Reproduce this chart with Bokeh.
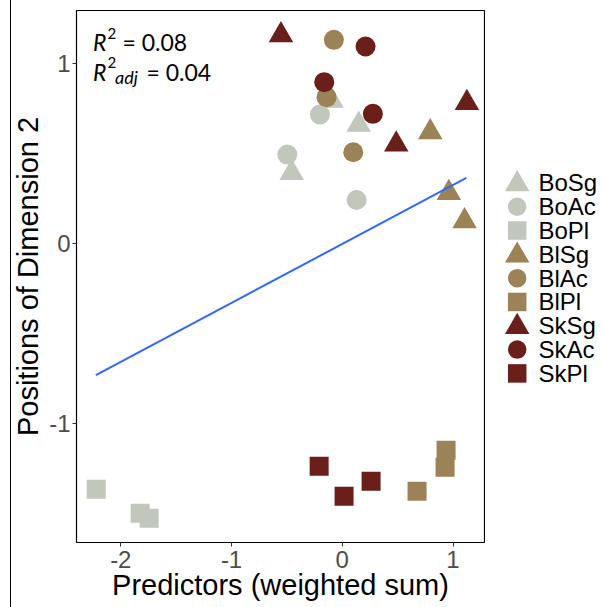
from bokeh.plotting import figure
from bokeh.models import Range1d, FixedTicker, Label
from bokeh.layouts import row
from bokeh.embed import file_html
from bokeh.resources import INLINE
from bokeh.core.properties import value

# ---------------- data ----------------
groups = ["Bo", "Bl", "Sk"]
measures = ["Sg", "Ac", "Pl"]

bo_sg_x = [-0.097, 0.148, -0.457]
bo_sg_y = [0.795, 0.662, 0.394]
bo_ac_x = [-0.202, -0.496, 0.129]
bo_ac_y = [0.718, 0.496, 0.244]
bo_pl_x = [-2.222, -1.825, -1.744]
bo_pl_y = [-1.362, -1.496, -1.523]

bl_sg_x = [0.794, 0.962, 1.104]
bl_sg_y = [0.620, 0.283, 0.126]
bl_ac_x = [-0.076, -0.142, 0.099]
bl_ac_y = [1.133, 0.815, 0.509]
bl_pl_x = [0.675, 0.928, 0.937]
bl_pl_y = [-1.373, -1.240, -1.146]

sk_sg_x = [-0.554, 0.487, 1.125]
sk_sg_y = [1.159, 0.553, 0.783]
sk_ac_x = [0.210, -0.163, 0.276]
sk_ac_y = [1.096, 0.898, 0.722]
sk_pl_x = [-0.209, 0.016, 0.260]
sk_pl_y = [-1.234, -1.401, -1.318]

fit_x = [-2.225, 1.120]
fit_y = [-0.728, 0.366]

x_ticks = [-2, -1, 0, 1]
x_tick_labels = ["-2", "-1", "0", "1"]
y_ticks = [-1, 0, 1]
y_tick_labels = ["-1", "0", "1"]

r2_text = "0.08"
r2_adj_text = "0.04"

legend_labels = ["BoSg", "BoAc", "BoPl", "BlSg", "BlAc", "BlPl", "SkSg", "SkAc", "SkPl"]

# ---------------- styles ----------------
colors = {"Bo": "#C1C7BA", "Bl": "#9C8257", "Sk": "#6A1F1A"}
markers = {"Sg": "triangle", "Ac": "circle", "Pl": "square"}
sizes = {"Sg": 24.5, "Ac": 20, "Pl": 19}
legend_sizes = {"Sg": 24.5, "Ac": 18.5, "Pl": 18.5}

series = {
    ("Bo", "Sg"): (bo_sg_x, bo_sg_y), ("Bo", "Ac"): (bo_ac_x, bo_ac_y), ("Bo", "Pl"): (bo_pl_x, bo_pl_y),
    ("Bl", "Sg"): (bl_sg_x, bl_sg_y), ("Bl", "Ac"): (bl_ac_x, bl_ac_y), ("Bl", "Pl"): (bl_pl_x, bl_pl_y),
    ("Sk", "Sg"): (sk_sg_x, sk_sg_y), ("Sk", "Ac"): (sk_ac_x, sk_ac_y), ("Sk", "Pl"): (sk_pl_x, sk_pl_y),
}

TXT = "Liberation Sans"
H = 607
MAIN_W = 485
FRAME_TOP = 10
FRAME_BOTTOM = 541.7
FL = 76
BOTTOM_PAD = round(H - FRAME_BOTTOM)

# thin vertical rule at the far left of the picture, drawn as the figure's CSS background
left_rule = {"background": "linear-gradient(90deg, #fff 10px, #000 10px, #000 11px, #fff 11px)"}

p = figure(width=MAIN_W, height=H,
           x_range=Range1d(-2.40, 1.284), y_range=Range1d(-1.658, 1.296),
           output_backend="svg", toolbar_location=None,
           min_border_left=FL, min_border_right=1,
           min_border_top=FRAME_TOP, min_border_bottom=BOTTOM_PAD,
           styles=left_rule)
p.outline_line_color = "black"
p.outline_line_width = 1.2
p.xgrid.visible = False
p.ygrid.visible = False
p.background_fill_color = "white"
p.border_fill_alpha = 0

p.xaxis.ticker = FixedTicker(ticks=x_ticks, minor_ticks=[])
p.yaxis.ticker = FixedTicker(ticks=y_ticks, minor_ticks=[])
p.xaxis.major_label_overrides = {t: l for t, l in zip(x_ticks, x_tick_labels)}
p.yaxis.major_label_overrides = {t: l for t, l in zip(y_ticks, y_tick_labels)}
p.xaxis.axis_label = "Predictors (weighted sum)"
p.yaxis.axis_label = "Positions of Dimension 2"
for ax in (p.xaxis[0], p.yaxis[0]):
    ax.axis_line_color = None
    ax.major_tick_line_color = "#333333"
    ax.major_tick_out = 4
    ax.major_tick_in = 0
    ax.minor_tick_line_color = None
    ax.major_label_text_font = TXT
    ax.major_label_text_font_size = "24px"
    ax.major_label_text_color = "#4D4D4D"
    ax.axis_label_text_font = TXT
    ax.axis_label_text_font_size = "29px"
    ax.axis_label_text_font_style = "normal"
    ax.axis_label_text_color = "black"
p.xaxis.major_label_standoff = 4
p.xaxis.axis_label_standoff = -2
p.yaxis.major_label_standoff = 2
p.yaxis.axis_label_standoff = 2

for g in groups:
    for m in measures:
        xs, ys = series[(g, m)]
        p.scatter(xs, ys, marker=markers[m], size=sizes[m],
                  fill_color=colors[g], line_color=None)

p.line(fit_x, fit_y, line_color="#3366FF", line_width=2)

# R^2 annotation (screen units relative to frame: x from left, y from bottom)
FH = FRAME_BOTTOM - FRAME_TOP
YCORR = -7
def lab(x_page, base_page, text, size, style="normal"):
    p.add_layout(Label(x=x_page - FL, y=FH - (base_page + YCORR - FRAME_TOP),
                       x_units="screen", y_units="screen",
                       text=text, text_font="Lato", text_font_size=size, text_font_style=style,
                       text_color="black", text_baseline="alphabetic", text_align="left"))

lab(92.5, 48.5, "R", "23px", "italic")
lab(107.0, 39.5, "2", "15px")
lab(122.0, 48.5, "= " + r2_text, "23px")
lab(92.5, 78.0, "R", "23px", "italic")
lab(107.0, 68.5, "2", "15px")
lab(114.5, 83.5, "adj", "18px", "italic")
lab(146.0, 78.0, "= " + r2_adj_text, "23px")

# ---------------- legend panel (data coords = page pixels) ----------------
LX0 = MAIN_W
LW = 604 - LX0
lg = figure(width=LW, height=H, x_range=Range1d(LX0, 604), y_range=Range1d(FRAME_BOTTOM, FRAME_TOP),
            output_backend="svg", toolbar_location=None,
            min_border_left=0, min_border_right=0,
            min_border_top=FRAME_TOP, min_border_bottom=BOTTOM_PAD,
            x_axis_location=None, y_axis_location=None)
lg.outline_line_color = None
lg.xgrid.visible = False
lg.ygrid.visible = False

row0, step = 182.3, 23.8
i = 0
for g in groups:
    for m in measures:
        yy = row0 + step * i
        dy = 1.2 if m == "Sg" else 0
        lg.scatter([516.7], [yy + dy], marker=markers[m], size=legend_sizes[m],
                   fill_color=colors[g], line_color=None)
        i += 1
lg.text(x=[538] * len(legend_labels), y=[row0 + step * k for k in range(len(legend_labels))],
        text=legend_labels, text_font=value(TXT), text_font_size="24px",
        text_baseline="middle", text_align="left", text_color="black")

layout = row(p, lg)
open("out.html", "w").write(file_html(layout, INLINE))
